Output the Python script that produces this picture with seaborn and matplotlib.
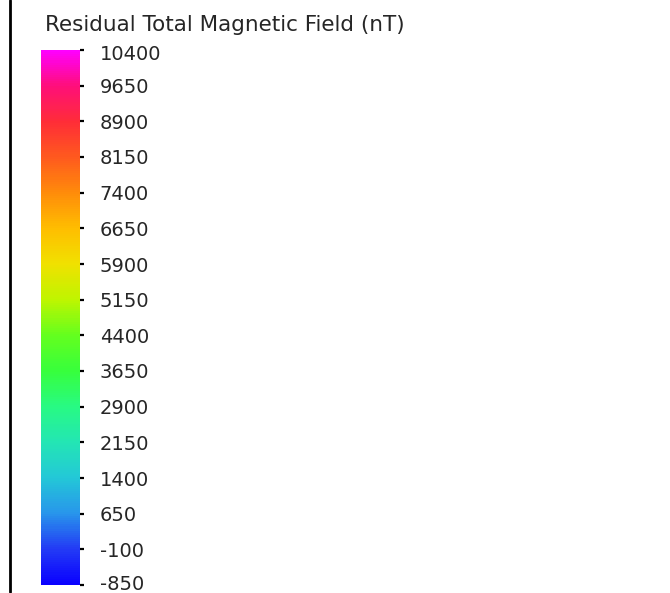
import matplotlib
matplotlib.use("Agg")
import matplotlib.pyplot as plt
import matplotlib as mpl
from matplotlib.lines import Line2D
import seaborn as sns

# colorbar range and ticks
vmin = -850
vmax = 10400
tick_values = [-850, -100, 650, 1400, 2150, 2900, 3650, 4400, 5150,
               5900, 6650, 7400, 8150, 8900, 9650, 10400]
title = "Residual Total Magnetic Field (nT)"

# colours sampled along the bar, bottom to top (one per tick)
bar_colors = ["#0a00ff", "#233cf5", "#2896eb", "#23c8d7", "#23e6b4",
              "#28fa82", "#37ff3c", "#64ff1e", "#bef500", "#f0e100",
              "#ffbe00", "#ff8c0a", "#ff5a1e", "#ff2d37", "#ff0f78",
              "#ff00ff"]

sns.set_style("white")
plt.rcParams['font.family'] = ['DejaVu Sans']

cmap = sns.blend_palette(bar_colors, as_cmap=True)
norm = mpl.colors.Normalize(vmin=vmin, vmax=vmax)

W, H = 670, 593
fig = plt.figure(figsize=(W / 100, H / 100), dpi=100)
cax = fig.add_axes([41 / W, (H - 585) / H, 39 / W, 535 / H])
cb = mpl.colorbar.ColorbarBase(cax, cmap=cmap, norm=norm,
                               orientation="vertical", ticks=tick_values)
cb.outline.set_visible(False)
cax.tick_params(axis="y", direction="out", length=2.8, width=1.6,
                color="black", pad=11.5, labelsize=14, labelcolor="#262626",
                right=True, left=False)
cax.set_yticklabels([str(v) for v in tick_values])
# nudge the end labels inward, as in the original
up = mpl.transforms.ScaledTranslation(0, 2 / 100, fig.dpi_scale_trans)
down = mpl.transforms.ScaledTranslation(0, -3 / 100, fig.dpi_scale_trans)
labels = cax.get_yticklabels()
labels[0].set_transform(labels[0].get_transform() + up)
labels[-1].set_transform(labels[-1].get_transform() + down)

fig.text(45 / W, 1 - 31 / H, title, fontsize=15.5, color="#262626",
         va="baseline", ha="left")

# left frame line
fig.add_artist(Line2D([9.5 / W, 9.5 / W], [1 / H, 1], color="black",
                      linewidth=2, transform=fig.transFigure))

fig.savefig("out.png", dpi=100, facecolor="white")
